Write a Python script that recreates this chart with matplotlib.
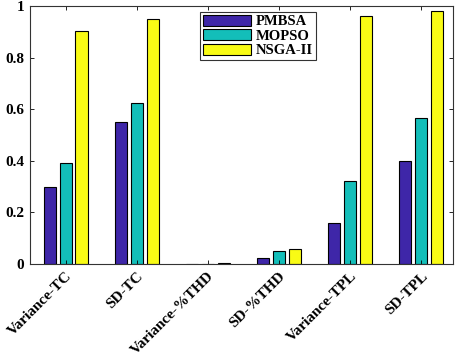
import matplotlib
matplotlib.use("Agg")
import matplotlib.pyplot as plt
import numpy as np

categories = ["Variance-TC", "SD-TC", "Variance-%THD", "SD-%THD", "Variance-TPL", "SD-TPL"]
series_names = ["PMBSA", "MOPSO", "NSGA-II"]
pmbsa = [0.30, 0.55, 0.001, 0.022, 0.16, 0.40]
mopso = [0.39, 0.625, 0.001, 0.05, 0.32, 0.565]
nsga = [0.905, 0.95, 0.003, 0.06, 0.96, 0.98]
yticks = [0, 0.2, 0.4, 0.6, 0.8, 1]
ytick_labels = ["0", "0.2", "0.4", "0.6", "0.8", "1"]

colors = ["#3e26a8", "#13beb9", "#f9fb15"]

plt.rcParams['font.family'] = ['Liberation Serif', 'DejaVu Serif']
plt.rcParams['font.weight'] = 'bold'

fig = plt.figure(figsize=(4.57, 3.57), dpi=100)
ax = fig.add_axes([30/457, (357-264)/357, 423/457, 258/357])

x = np.arange(1, len(categories) + 1)
step = 0.225
width = 0.17
for i, (vals, name, c) in enumerate(zip([pmbsa, mopso, nsga], series_names, colors)):
    ax.bar(x + (i - 1) * step, vals, width, color=c, edgecolor="black", linewidth=0.8, label=name)

ax.set_xlim(0.5, 6.45)
ax.set_ylim(0, 1)
ax.set_xticks(x)
ax.set_xticklabels(categories, rotation=45, ha="right", rotation_mode="anchor", fontsize=11, fontweight="bold")
ax.set_yticks(yticks)
ax.set_yticklabels(ytick_labels, fontsize=11, fontweight="bold")
ax.tick_params(direction="in", top=True, right=True, length=3, width=0.6, pad=4)
for s in ax.spines.values():
    s.set_linewidth(0.8)
    s.set_color("#333333")

leg = ax.legend(loc="upper left", bbox_to_anchor=(0.402, 0.977), fontsize=10.5,
                frameon=True, fancybox=False, edgecolor="black", handlelength=3.3,
                handleheight=0.75, borderpad=0.2, labelspacing=0.08, handletextpad=0.3,
                borderaxespad=0)
leg.get_frame().set_linewidth(0.8)
for t in leg.get_texts():
    t.set_fontweight("bold")

fig.savefig("out.png", dpi=100)
